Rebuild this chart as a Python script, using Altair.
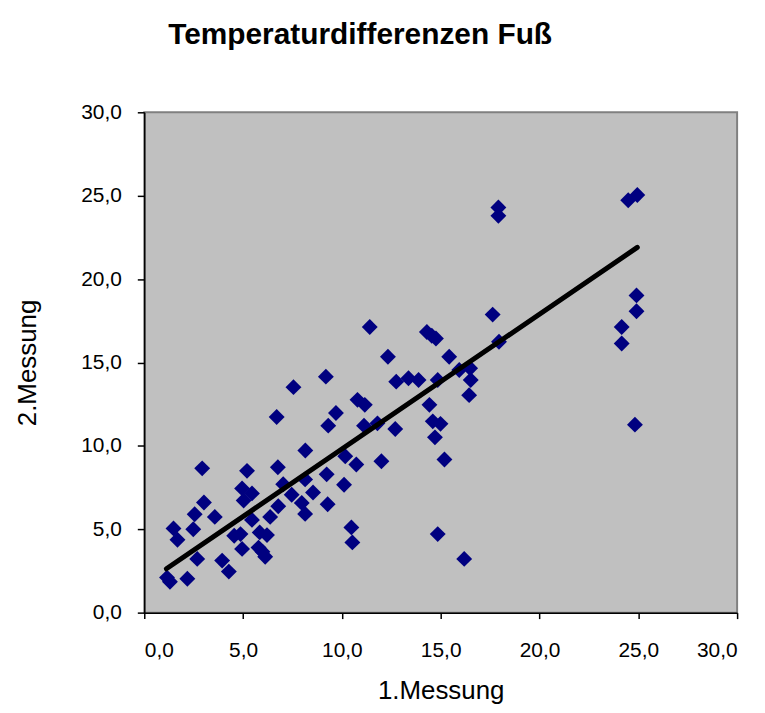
import altair as alt
import pandas as pd

# 1.Messung (x) and 2.Messung (y) values
messung1 = [
    1.15, 1.30, 2.18, 1.48, 1.68, 2.48, 2.55, 3.02, 3.57, 2.93, 2.68, 3.94, 4.28,
    4.55, 4.87, 4.95, 5.84, 6.21, 5.78, 5.98, 6.12,
    5.45, 6.37, 6.78, 5.03, 4.95, 5.45, 5.20, 6.76, 7.03, 7.46, 8.54, 7.97, 8.14,
    8.14, 9.23, 9.28, 8.15, 6.70, 7.55, 9.19,
    9.70, 9.31, 10.79, 11.16, 11.12, 11.80, 12.70, 10.17, 10.73, 12.00, 10.11,
    10.48, 10.53,
    11.41, 12.33, 12.75, 13.37, 13.88, 14.30, 14.55, 14.76,
    14.85, 14.43, 14.60, 14.99, 14.71, 15.19, 14.85, 16.19,
    15.43, 15.94, 16.49, 16.52, 16.44,
    17.63, 17.95, 17.92, 17.92,
    24.49, 24.95, 24.91, 24.91, 24.16, 24.16, 24.83,
]
messung2 = [
    2.10, 1.85, 2.03, 5.05, 4.37, 5.00, 5.90, 6.60, 5.74, 8.65, 3.22, 3.12, 2.46,
    4.61, 4.71, 3.82, 4.81, 4.65, 3.90, 3.65, 3.35,
    5.56, 5.74, 6.38, 6.72, 7.45, 7.15, 8.50, 8.72, 7.70, 7.07, 7.20, 6.58, 5.92,
    7.99, 8.29, 6.50, 9.72, 11.73, 13.52, 14.15,
    11.97, 11.21, 12.76, 12.46, 11.21, 11.35, 11.01, 9.38, 8.88, 9.08, 7.67,
    5.11, 4.21,
    17.13, 15.34, 13.85, 14.05, 13.95, 16.83, 16.60, 16.44,
    13.95, 12.46, 11.47, 11.32, 10.51, 9.18, 4.71, 3.22,
    15.34, 14.55, 14.65, 13.95, 13.04,
    17.87, 16.24, 24.29, 23.79,
    24.73, 25.04, 19.02, 18.07, 17.13, 16.14, 11.27,
]
# linear trend line as drawn in the picture (its two end points)
trend_m1 = [1.12, 24.95]
trend_m2 = [2.63, 21.90]
tick_values = [0, 5, 10, 15, 20, 25, 30]

df = pd.DataFrame({"m1": messung1, "m2": messung2})
df_trend = pd.DataFrame({"m1": trend_m1, "m2": trend_m2})

FONT = "Liberation Sans"
label_expr = "replace(format(datum.value, '.1f'), '.', ',')"

x_enc = alt.X(
    "m1:Q",
    scale=alt.Scale(domain=[0, 30], nice=False, zero=False),
    axis=alt.Axis(
        values=tick_values, labelExpr=label_expr, title="1.Messung",
        grid=False, tickSize=6, labelPadding=21, titlePadding=17,
        domainColor="black", tickColor="black", domainWidth=1.5, tickWidth=1.5,
        labelFont=FONT, labelFontSize=21, labelColor="black",
        titleFont=FONT, titleFontSize=26, titleFontWeight="normal", titleColor="black",
    ),
)
y_enc = alt.Y(
    "m2:Q",
    scale=alt.Scale(domain=[0, 30], nice=False, zero=False),
    axis=alt.Axis(
        values=tick_values, labelExpr=label_expr, title="2.Messung",
        grid=False, tickSize=7, labelPadding=16, titlePadding=40,
        domainColor="black", tickColor="black", domainWidth=1.5, tickWidth=1.5,
        labelFont=FONT, labelFontSize=21, labelColor="black",
        titleFont=FONT, titleFontSize=26, titleFontWeight="normal", titleColor="black",
    ),
)

points = alt.Chart(df).mark_point(
    shape="diamond", filled=True, color="#000080", size=255, opacity=1
).encode(x=x_enc, y=y_enc)

trend = alt.Chart(df_trend).mark_line(
    color="black", strokeWidth=5, strokeCap="round"
).encode(x=alt.X("m1:Q"), y=alt.Y("m2:Q"))

chart = alt.layer(points, trend).properties(
    width=596,
    height=503,
    autosize=alt.AutoSizeParams(type="none"),
    padding={"left": 137, "top": 103, "right": 20, "bottom": 91},
    title=alt.TitleParams(
        "Temperaturdifferenzen Fuß", font=FONT, fontSize=30, fontWeight="bold",
        color="black", anchor="middle", dx=-81, offset=52,
    ),
).configure_view(
    fill="#C0C0C0", stroke="#808080", strokeWidth=2
)

chart.save("out.html", embed_options={"renderer": "svg", "actions": False})
